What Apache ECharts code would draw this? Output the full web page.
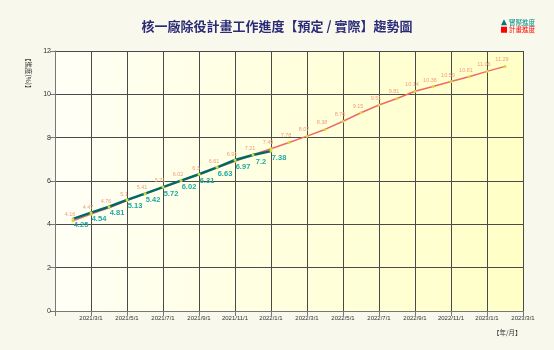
<!DOCTYPE html>
<html>
<head>
<meta charset="utf-8">
<script src="https://cdn.jsdelivr.net/npm/echarts@6/dist/echarts.min.js"></script>
<style>
html,body{margin:0;padding:0;background:#f8f8ec;}
#c{width:554px;height:350px;}
</style>
</head>
<body>
<div id="c"></div>
<script>
var months = ['2021/1/1','2021/2/1','2021/3/1','2021/4/1','2021/5/1','2021/6/1','2021/7/1','2021/8/1','2021/9/1','2021/10/1','2021/11/1','2021/12/1',
  '2022/1/1','2022/2/1','2022/3/1','2022/4/1','2022/5/1','2022/6/1','2022/7/1','2022/8/1','2022/9/1','2022/10/1','2022/11/1','2022/12/1',
  '2023/1/1','2023/2/1','2023/3/1'];
var planned = [null,4.16,4.47,4.76,5.1,5.41,5.71,6.02,6.3,6.61,6.91,7.21,7.49,7.78,8.07,8.38,8.76,9.15,9.51,9.81,10.14,10.36,10.59,10.81,11.06,11.29,null];
var actual = [null,4.25,4.54,4.81,5.13,5.42,5.72,6.02,6.31,6.63,6.97,7.2,7.38];
var yTicks = {min:0, max:12, interval:2};

var chart = echarts.init(document.getElementById('c'));
var num = 'Liberation Sans, Arial, sans-serif';
var cjk = '"Noto Sans CJK TC", "Noto Sans CJK SC", sans-serif';
chart.setOption({
  backgroundColor: '#f8f8ec',
  animation: false,
  title: {
    text: '核一廠除役計畫工作進度【預定 / 實際】趨勢圖',
    left: 'center', top: 15,
    textStyle: {fontFamily: cjk, fontSize: 13, fontWeight: 'bold', color: '#2b2b78'}
  },
  legend: {
    orient: 'vertical', right: 14, top: 14, itemGap: 1,
    itemWidth: 6, itemHeight: 6,
    textStyle: {fontFamily: cjk, fontSize: 6.5, padding: [0,0,0,-3]},
    data: [
      {name: '實際進度', icon: 'triangle', itemStyle: {color: '#007a78'}, textStyle: {color: '#008a88'}},
      {name: '計畫進度', icon: 'rect', itemStyle: {color: '#ff0000'}, textStyle: {color: '#ff0000'}}
    ]
  },
  grid: {
    left: 55, right: 31, top: 51, bottom: 39, show: true, borderWidth: 0,
    backgroundColor: {type:'linear', x:0, y:0, x2:1, y2:0,
      colorStops:[{offset:0,color:'#fffff6'},{offset:1,color:'#ffffc6'}]}
  },
  graphic: [
    {type:'text', left: 25, top: 55, rotation: -Math.PI/2,
     style:{text:'【進度(%)】', font:'6.5px ' + cjk, fill:'#333'}},
    {type:'text', left: 493, top: 329,
     style:{text:'【年/月】', font:'6.5px ' + cjk, fill:'#333'}}
  ],
  xAxis: {
    type: 'category', data: months, boundaryGap: false,
    axisLine: {lineStyle: {color: '#777', width: 1}},
    axisTick: {show: true, interval: 1, length: 5, lineStyle: {color: '#777'}},
    axisLabel: {
      interval: function (i) { return i % 2 === 0 && i > 0; },
      fontFamily: num, fontSize: 6, color: '#333', margin: 4
    },
    splitLine: {show: true, interval: 1, lineStyle: {color: '#4a4a4a', width: 1}}
  },
  yAxis: {
    type: 'value', min: yTicks.min, max: yTicks.max, interval: yTicks.interval,
    axisLine: {show: true, lineStyle: {color: '#777', width: 1}},
    axisTick: {show: true, length: 5, lineStyle: {color: '#777'}},
    axisLabel: {fontFamily: num, fontSize: 7, color: '#333', margin: 4},
    splitLine: {show: true, lineStyle: {color: '#4a4a4a', width: 1}}
  },
  series: [
    {
      name: '計畫進度', type: 'line', data: planned, z: 2,
      symbol: 'circle', symbolSize: 3, showAllSymbol: true,
      itemStyle: {color: '#d8d840'},
      lineStyle: {color: '#f06868', width: 1.5},
      label: {show: true, position: 'top', distance: 2, offset: [-3, 0],
        fontFamily: num, fontSize: 5.5, color: '#f0a080'}
    },
    {
      name: '實際進度', type: 'line', data: actual, z: 3,
      symbol: 'circle', symbolSize: 3, showAllSymbol: true,
      itemStyle: {color: '#d8d840'},
      lineStyle: {color: '#006868', width: 2.5},
      label: {show: true, position: 'bottom', distance: 1, offset: [8, 0],
        fontFamily: num, fontSize: 7.5, fontWeight: 'bold', color: '#20a8a0'}
    }
  ]
});
</script>
</body>
</html>
